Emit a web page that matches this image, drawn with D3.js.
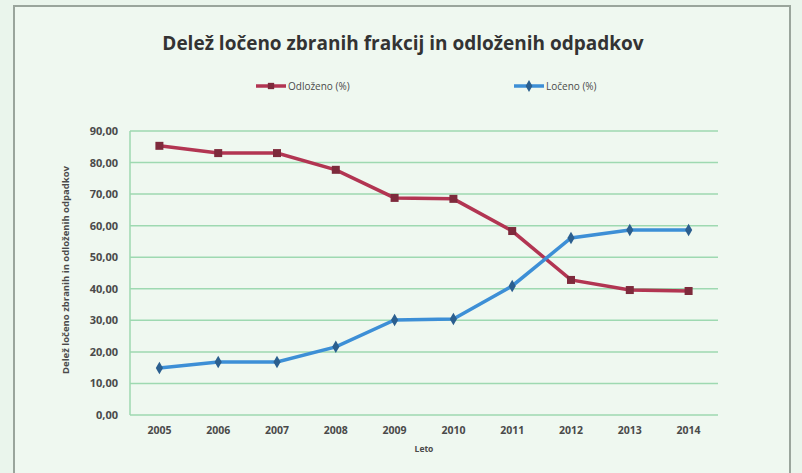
<!DOCTYPE html>
<html>
<head>
<meta charset="utf-8">
<script src="https://cdn.jsdelivr.net/npm/d3@7"></script>
<style>
  body { margin: 0; background: #eaf5ec; }
  svg { display: block; }
</style>
</head>
<body>
<svg id="chart"></svg>
<script>
const years = ["2005", "2006", "2007", "2008", "2009", "2010", "2011", "2012", "2013", "2014"];
const odlozeno = [85.3, 83.0, 83.0, 77.7, 68.8, 68.5, 58.3, 42.8, 39.6, 39.3];
const loceno = [14.9, 16.8, 16.8, 21.6, 30.1, 30.4, 40.9, 56.1, 58.6, 58.6];
const yTicks = [0, 10, 20, 30, 40, 50, 60, 70, 80, 90];

const width = 802, height = 473;
const margin = { top: 131, right: 84, bottom: 58, left: 130 };
const font = "'Open Sans', 'DejaVu Sans', sans-serif";

const svg = d3.select('#chart')
    .attr('width', width)
    .attr('height', height);

// page background and frame
svg.append('rect')
    .attr('width', width).attr('height', height)
    .attr('fill', '#eaf5ec');
svg.append('rect')
    .attr('x', 14).attr('y', 6)
    .attr('width', 776).attr('height', 470)
    .attr('fill', '#eff8f0')
    .attr('stroke', '#9aa59c')
    .attr('stroke-width', 2);

const x = d3.scaleBand()
    .domain(years)
    .range([margin.left, width - margin.right]);

const y = d3.scaleLinear()
    .domain([0, 90])
    .range([height - margin.bottom, margin.top]);

// grid
svg.append('g')
    .selectAll('line')
    .data(yTicks)
    .join('line')
    .attr('x1', margin.left).attr('x2', width - margin.right)
    .attr('y1', d => y(d)).attr('y2', d => y(d))
    .attr('stroke', '#9ed9b1')
    .attr('stroke-width', 1.5);

svg.append('line')
    .attr('x1', margin.left).attr('x2', margin.left)
    .attr('y1', y(0)).attr('y2', y(90))
    .attr('stroke', '#9ed9b1')
    .attr('stroke-width', 1.5);

// y axis
const yAxis = svg.append('g')
    .attr('transform', `translate(${margin.left},0)`)
    .call(d3.axisLeft(y).tickValues(yTicks).tickFormat(d => d.toFixed(2).replace('.', ',')).tickSize(0).tickPadding(12));
yAxis.select('.domain').remove();
yAxis.selectAll('text')
    .attr('font-family', font)
    .attr('font-size', 11)
    .attr('font-weight', 'bold')
    .attr('fill', '#4a4a4a');

// x axis
const xAxis = svg.append('g')
    .attr('transform', `translate(0,${y(0)})`)
    .call(d3.axisBottom(x).tickSize(0).tickPadding(12));
xAxis.select('.domain').remove();
xAxis.selectAll('text')
    .attr('font-family', font)
    .attr('font-size', 10.5)
    .attr('font-weight', 'bold')
    .attr('fill', '#4a4a4a');

// axis titles
svg.append('text')
    .attr('x', x('2010'))
    .attr('y', 452)
    .attr('text-anchor', 'middle')
    .attr('font-family', font)
    .attr('font-size', 8.5)
    .attr('font-weight', 'bold')
    .attr('fill', '#4a4a4a')
    .text('Leto');

svg.append('text')
    .attr('transform', `translate(69,${y(45) - 3}) rotate(-90)`)
    .attr('text-anchor', 'middle')
    .attr('font-family', font)
    .attr('font-size', 9.5)
    .attr('font-weight', 'bold')
    .attr('fill', '#4a4a4a')
    .text('Delež ločeno zbranih in odloženih odpadkov');

// title
svg.append('text')
    .attr('x', 403)
    .attr('y', 50)
    .attr('text-anchor', 'middle')
    .attr('font-family', font)
    .attr('font-size', 19)
    .attr('font-weight', 'bold')
    .attr('fill', '#333')
    .text('Delež ločeno zbranih frakcij in odloženih odpadkov');

const cx = d => x(d) + x.bandwidth() / 2;
const line = d3.line().x(d => cx(d[0])).y(d => y(d[1]));

const redColor = '#b23552', blueColor = '#3d8fd6';

svg.append('path')
    .datum(years.map((yr, i) => [yr, odlozeno[i]]))
    .attr('d', line)
    .attr('fill', 'none')
    .attr('stroke', redColor)
    .attr('stroke-width', 3.5);

svg.append('path')
    .datum(years.map((yr, i) => [yr, loceno[i]]))
    .attr('d', line)
    .attr('fill', 'none')
    .attr('stroke', blueColor)
    .attr('stroke-width', 3.5);

// markers
svg.append('g')
    .selectAll('rect')
    .data(years.map((yr, i) => [yr, odlozeno[i]]))
    .join('rect')
    .attr('x', d => cx(d[0]) - 4).attr('y', d => y(d[1]) - 4)
    .attr('width', 8).attr('height', 8)
    .attr('fill', '#7e2a3c');

svg.append('g')
    .selectAll('path')
    .data(years.map((yr, i) => [yr, loceno[i]]))
    .join('path')
    .attr('transform', d => `translate(${cx(d[0])},${y(d[1])})`)
    .attr('d', d3.symbol(d3.symbolDiamond, 45))
    .attr('fill', '#2b5f8f');

// legend
const legend = [
    { name: 'Odloženo  (%)', color: redColor, mark: '#7e2a3c', x: 256, sym: 'square' },
    { name: 'Ločeno (%)', color: blueColor, mark: '#2b5f8f', x: 514, sym: 'diamond' }
];
const lg = svg.append('g').selectAll('g').data(legend).join('g')
    .attr('transform', d => `translate(${d.x},86)`);
lg.append('line')
    .attr('x1', 0).attr('x2', 30)
    .attr('stroke', d => d.color)
    .attr('stroke-width', 3.5);
lg.append('path')
    .attr('transform', 'translate(15,0)')
    .attr('d', d => d3.symbol(d.sym === 'square' ? d3.symbolSquare : d3.symbolDiamond, 40)())
    .attr('fill', d => d.mark);
lg.append('text')
    .attr('x', 32).attr('y', 3.5)
    .attr('font-family', font)
    .attr('font-size', 10)
    .attr('fill', '#4a4a4a')
    .text(d => d.name);
</script>
</body>
</html>
